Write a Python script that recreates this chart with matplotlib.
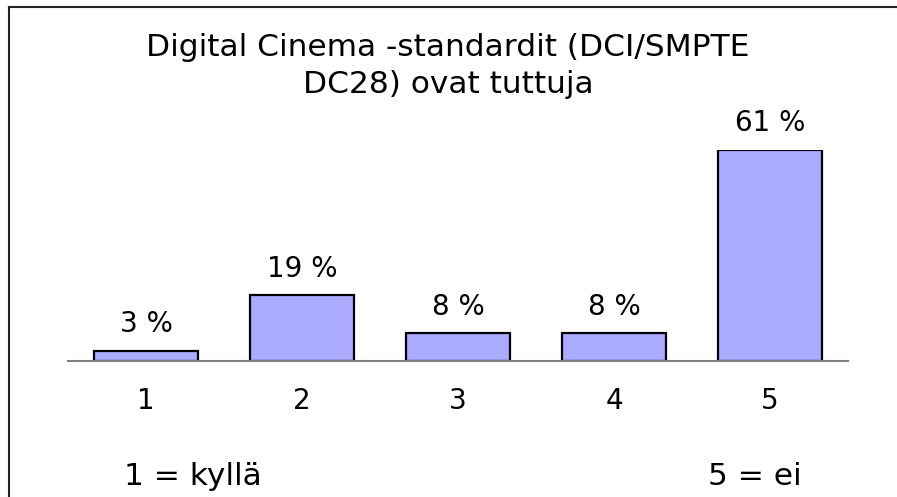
import matplotlib.pyplot as plt
from matplotlib.lines import Line2D

categories = ['1', '2', '3', '4', '5']
values = [3, 19, 8, 8, 61]
labels = ['3 %', '19 %', '8 %', '8 %', '61 %']
title = 'Digital Cinema -standardit (DCI/SMPTE\nDC28) ovat tuttuja'
left_note = '1 = kyllä'
right_note = '5 = ei'

plt.rcParams['font.family'] = ['DejaVu Sans']

W, H = 897, 497
fig = plt.figure(figsize=(W / 100, H / 100), dpi=100)

# axes in pixel coordinates: x 68..848, baseline y=361, top y=150 -> 61 %
ax = fig.add_axes([68 / W, (H - 361) / H, 780 / W, 211 / H])
x = range(1, len(values) + 1)
ax.bar(x, values, width=0.667, color='#aaaaff', edgecolor='black', linewidth=1.6, zorder=3)
ax.set_xlim(0.5, 5.5)
ax.set_ylim(0, 61)
ax.axhline(0, color='#808080', linewidth=1.5, zorder=4, clip_on=False)
for s in ax.spines.values():
    s.set_visible(False)
ax.set_yticks([])
ax.set_xticks(list(x))
ax.set_xticklabels(categories, fontsize=20)
ax.tick_params(axis='x', length=0, pad=19)

for xi, v, lab in zip(x, values, labels):
    ax.annotate(lab, (xi, v), xytext=(0, 13.5), textcoords='offset points',
                ha='center', va='baseline', fontsize=20, clip_on=False)

fig.text(448 / W, 1 - 66 / H, title, ha='center', va='center', fontsize=22.5, linespacing=1.33)
fig.text(124 / W, 1 - 485 / H, left_note, ha='left', va='baseline', fontsize=22.5)
fig.text(708 / W, 1 - 485 / H, right_note, ha='left', va='baseline', fontsize=22.5)

# frame: top and left edges
fig.add_artist(Line2D([9 / W, 9 / W], [0, 1 - 7 / H], color='#222222', linewidth=1.5, transform=fig.transFigure))
fig.add_artist(Line2D([9 / W, 1], [1 - 7 / H, 1 - 7 / H], color='#222222', linewidth=1.5, transform=fig.transFigure))

fig.savefig('out.png', dpi=100)
